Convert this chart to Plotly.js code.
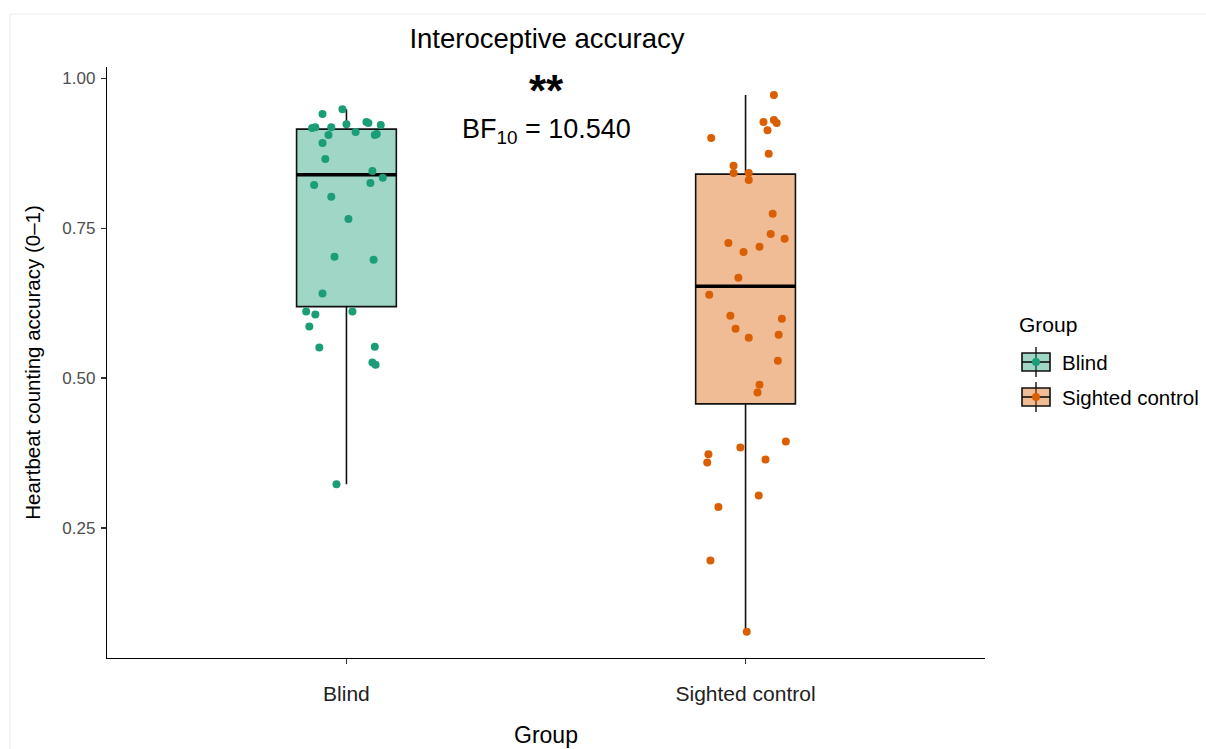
<!DOCTYPE html>
<html>
<head>
<meta charset="utf-8">
<script src="https://cdn.plot.ly/plotly-3.0.1.min.js"></script>
<style>html,body{margin:0;padding:0;background:#fff;}#chart{width:1206px;height:749px;}</style>
</head>
<body>
<div id="chart"></div>
<script>
// ---- data ----
const groups = ["Blind", "Sighted control"];
const groupPos = [1, 2];
const lineColors = ["#1B9E77", "#D95F02"];
const fillColors = ["rgba(27,158,119,0.42)", "rgba(217,95,2,0.42)"];

const blindValues = [0.948,0.940,0.917,0.918,0.918,0.923,0.927,0.925,0.922,0.910,0.905,0.905,0.907,0.892,0.865,0.845,0.834,0.825,0.822,0.802,0.765,0.702,0.697,0.641,0.611,0.606,0.611,0.586,0.551,0.552,0.526,0.522,0.323];
const blindJitter = [-0.010,-0.060,-0.086,-0.078,-0.038,0.000,0.050,0.055,0.086,0.023,-0.045,0.071,0.076,-0.060,-0.053,0.065,0.091,0.060,-0.081,-0.038,0.005,-0.030,0.068,-0.060,-0.101,-0.078,0.015,-0.093,-0.068,0.071,0.065,0.073,-0.025];

const sightedValues = [0.972,0.900,0.927,0.930,0.925,0.913,0.874,0.854,0.842,0.842,0.830,0.774,0.725,0.710,0.719,0.740,0.732,0.667,0.639,0.604,0.582,0.567,0.599,0.572,0.529,0.489,0.476,0.394,0.384,0.373,0.359,0.364,0.304,0.285,0.196,0.077];
const sightedJitter = [0.071,-0.086,0.045,0.071,0.078,0.055,0.058,-0.030,-0.030,0.008,0.008,0.068,-0.043,-0.005,0.035,0.063,0.098,-0.018,-0.091,-0.038,-0.025,0.008,0.091,0.083,0.081,0.035,0.030,0.101,-0.013,-0.093,-0.096,0.050,0.033,-0.068,-0.088,0.003];

// box statistics (as drawn)
const q1 = [0.619, 0.457];
const medians = [0.839, 0.653];
const q3 = [0.915, 0.840];
const lowerWhisker = [0.323, 0.077];
const upperWhisker = [0.948, 0.972];

const starsLabel = "<b>**</b>";
const bfLabel = "BF<sub>10</sub> = 10.540";
const legendTitle = "Group";

// ---- geometry of the plotting area (pixels) ----
const W = 1206, H = 749;
const M = {l: 107, r: 221, t: 67, b: 91};
const PW = W - M.l - M.r, PH = H - M.t - M.b;
const px = x => (x - M.l) / PW;        // pixel -> paper x
const py = y => (H - M.b - y) / PH;    // pixel -> paper y

// ---- build traces ----
const boxWidth = 0.25;
const values = [blindValues, sightedValues];
const jitters = [blindJitter, sightedJitter];
const traces = [];

groups.forEach((g, i) => {
  traces.push({
    type: "box",
    name: g,
    x: [groupPos[i]],
    q1: [q1[i]], median: [medians[i]], q3: [q3[i]],
    lowerfence: [lowerWhisker[i]], upperfence: [upperWhisker[i]],
    width: boxWidth,
    whiskerwidth: 0,
    fillcolor: fillColors[i],
    line: {color: "#111", width: 1.6},
    boxpoints: false,
    hoverinfo: "skip",
    showlegend: false
  });
  traces.push({
    type: "scatter", mode: "lines",
    x: [groupPos[i] - boxWidth/2, groupPos[i] + boxWidth/2],
    y: [medians[i], medians[i]],
    line: {color: "#000", width: 3.4},
    hoverinfo: "skip", showlegend: false
  });
  traces.push({
    type: "scatter", mode: "markers",
    x: values[i].map((v, k) => groupPos[i] + jitters[i][k]),
    y: values[i],
    marker: {color: lineColors[i], size: 8},
    hoverinfo: "skip", showlegend: false
  });
});

// ---- custom ggplot-style legend (keys drawn as shapes) ----
const shapes = [
  {type: "line", xref: "paper", yref: "paper", x0: px(10), x1: px(1206), y0: py(14), y1: py(14), line: {color: "#ececec", width: 1}},
  {type: "line", xref: "paper", yref: "paper", x0: px(10), x1: px(10), y0: py(14), y1: py(749), line: {color: "#ececec", width: 1}}
];
const annotations = [
  {x: 1.5, y: 0.979, xref: "x", yref: "y", text: starsLabel, showarrow: false, font: {size: 44, color: "#000"}, yanchor: "middle"},
  {x: 1.5, y: 0.912, xref: "x", yref: "y", text: bfLabel, showarrow: false, font: {size: 27, color: "#000"}, yanchor: "middle"},
  {x: px(1017), y: py(324), xref: "paper", yref: "paper", text: legendTitle, showarrow: false, xanchor: "left", yanchor: "middle", font: {size: 21, color: "#000"}}
];
const keyCY = [362, 397];
groups.forEach((g, i) => {
  const cy = keyCY[i], cx = 1036;
  shapes.push({type: "line", xref: "paper", yref: "paper", x0: px(cx), x1: px(cx), y0: py(cy - 15), y1: py(cy + 15), line: {color: "#111", width: 1.4}});
  shapes.push({type: "rect", xref: "paper", yref: "paper", x0: px(cx - 14), x1: px(cx + 14), y0: py(cy - 9), y1: py(cy + 9), fillcolor: fillColors[i], line: {color: "#111", width: 1.6}});
  shapes.push({type: "line", xref: "paper", yref: "paper", x0: px(cx - 14), x1: px(cx + 14), y0: py(cy), y1: py(cy), line: {color: "#111", width: 1.6}});
  shapes.push({type: "circle", xref: "paper", yref: "paper", x0: px(cx - 4), x1: px(cx + 4), y0: py(cy - 4), y1: py(cy + 4), fillcolor: lineColors[i], line: {width: 0}});
  annotations.push({x: px(1060), y: py(cy), xref: "paper", yref: "paper", text: g, showarrow: false, xanchor: "left", yanchor: "middle", font: {size: 20.5, color: "#000"}});
});

const layout = {
  width: W, height: H,
  margin: M,
  showlegend: false,
  paper_bgcolor: "#fff", plot_bgcolor: "#fff",
  font: {family: "Liberation Sans, Arial, sans-serif", color: "#000"},
  title: {text: "Interoceptive accuracy", font: {size: 27.5, color: "#000"}, x: px(547), xref: "paper", xanchor: "center", y: 1 - 38 / H, yanchor: "middle"},
  xaxis: {
    range: [0.4, 2.6],
    tickvals: groupPos, ticktext: groups,
    showline: true, linecolor: "#000", linewidth: 1.2,
    ticks: "outside", ticklen: 5, tickcolor: "#333", tickwidth: 1.1,
    tickfont: {size: 21, color: "#222"},
    ticklabelstandoff: 12,
    showgrid: false, zeroline: false,
    title: {text: "Group", font: {size: 23, color: "#000"}, standoff: 22}
  },
  yaxis: {
    range: [0.0333, 1.0185],
    tickvals: [0.25, 0.5, 0.75, 1.0], ticktext: ["0.25", "0.50", "0.75", "1.00"],
    showline: true, linecolor: "#000", linewidth: 1.2,
    ticks: "outside", ticklen: 5, tickcolor: "#333", tickwidth: 1.1,
    tickfont: {size: 17, color: "#4d4d4d"},
    ticklabelstandoff: 2,
    showgrid: false, zeroline: false,
    title: {text: "Heartbeat counting accuracy (0\u20131)", font: {size: 20.5, color: "#000"}, standoff: 16}
  },
  annotations: annotations,
  shapes: shapes
};

Plotly.newPlot("chart", traces, layout, {displayModeBar: false, staticPlot: true});
</script>
</body>
</html>
